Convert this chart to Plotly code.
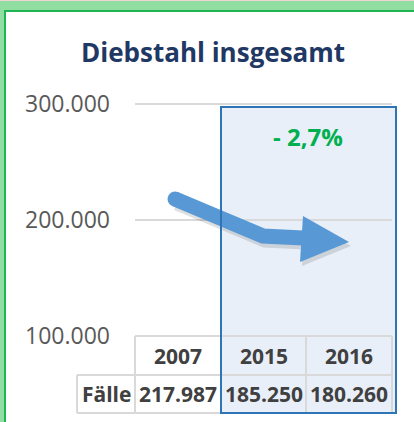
import plotly.graph_objects as go

# ---- data ----
years = ["2007", "2015", "2016"]
faelle = [217987, 185250, 180260]
row_label = "Fälle"
title_text = "Diebstahl insgesamt"
y_ticks = [100000, 200000, 300000]

W, H = 414, 422
FONT = "Open Sans"


def px(x):
    return x / W


def py(y):
    return 1 - y / H


def fmt_de(v):
    return f"{v:,}".replace(",", ".")


change = (faelle[2] - faelle[1]) / faelle[1] * 100
change_text = ("- " if change < 0 else "+ ") + f"{abs(change):.1f}".replace(".", ",") + "%"

fig = go.Figure()
fig.add_trace(go.Scatter(x=years, y=faelle, mode="markers",
                         marker=dict(opacity=0), hoverinfo="skip", showlegend=False))

shapes = []
# white cover on the right edge
shapes.append(dict(type="rect", xref="paper", yref="paper", x0=px(400), x1=1.05, y0=-0.05, y1=py(12),
                   fillcolor="white", line_width=0, layer="above"))
# frame
shapes.append(dict(type="rect", xref="paper", yref="paper", x0=0, x1=1, y0=py(0), y1=py(1),
                   fillcolor="#F2D4D4", line_width=0, layer="above"))
shapes.append(dict(type="rect", xref="paper", yref="paper", x0=0, x1=1, y0=py(1), y1=py(10),
                   fillcolor="#91DEA2", line_width=0, layer="above"))
shapes.append(dict(type="rect", xref="paper", yref="paper", x0=0, x1=px(4), y0=0, y1=py(1),
                   fillcolor="#91DEA2", line_width=0, layer="above"))
shapes.append(dict(type="rect", xref="paper", yref="paper", x0=px(4), x1=1, y0=py(10), y1=py(12),
                   fillcolor="#1FB552", line_width=0, layer="above"))
shapes.append(dict(type="rect", xref="paper", yref="paper", x0=px(4), x1=px(6), y0=0, y1=py(10),
                   fillcolor="#1FB552", line_width=0, layer="above"))

# highlighted region fill (below gridlines)
shapes.append(dict(type="rect", xref="paper", yref="paper", x0=px(221), x1=px(396),
                   y0=py(413), y1=py(107), fillcolor="#E9EFF8", line_width=0, layer="below"))

# table lines
GRID = "#D9D9D9"
def hline(x0, x1, y):
    shapes.append(dict(type="line", xref="paper", yref="paper", x0=px(x0), x1=px(x1),
                       y0=py(y), y1=py(y), line=dict(color=GRID, width=2), layer="above"))
def vline(x, y0, y1):
    shapes.append(dict(type="line", xref="paper", yref="paper", x0=px(x), x1=px(x),
                       y0=py(y0), y1=py(y1), line=dict(color=GRID, width=2), layer="above"))

hline(135, 392, 336)
hline(77, 392, 375)
hline(77, 392, 413)
vline(77, 375, 413)
for xx in (135, 221, 306, 392):
    vline(xx, 336, 413)

def path(points, close=False):
    s = "M " + " L ".join(f"{px(a):.5f},{py(b):.5f}" for a, b in points)
    return s + (" Z" if close else "")

# arrow shadow
sh_dx, sh_dy = 2, 4
shaft = [(175, 199), (263, 236), (303, 238)]
head = [(303, 216), (349, 242), (300, 262)]
SH = "rgba(0,0,0,0.12)"
shapes.append(dict(type="path", xref="paper", yref="paper",
                   path=path([(a + sh_dx, b + sh_dy) for a, b in shaft]),
                   line=dict(color=SH, width=15), layer="above"))
shapes.append(dict(type="path", xref="paper", yref="paper",
                   path=path([(a + sh_dx, b + sh_dy) for a, b in head], True),
                   fillcolor=SH, line_width=0, layer="above"))
# arrow
ARROW = "#5899D5"
shapes.append(dict(type="path", xref="paper", yref="paper", path=path(shaft),
                   line=dict(color=ARROW, width=15), layer="above"))
shapes.append(dict(type="path", xref="paper", yref="paper", path=path(head, True),
                   fillcolor=ARROW, line_width=0, layer="above"))
shapes.append(dict(type="circle", xref="paper", yref="paper",
                   x0=px(167.5), x1=px(182.5), y0=py(206.5), y1=py(191.5),
                   fillcolor=ARROW, line_width=0, layer="above"))

# highlighted region border (above arrow)
shapes.append(dict(type="rect", xref="paper", yref="paper", x0=px(221), x1=px(396),
                   y0=py(413), y1=py(107), fillcolor="rgba(0,0,0,0)",
                   line=dict(color="#2E75B6", width=2), layer="above"))

annotations = []
annotations.append(dict(text=f"<b>{title_text}</b>", xref="paper", yref="paper",
                        x=px(213), y=py(52), showarrow=False, xanchor="center", yanchor="middle",
                        font=dict(family=FONT, size=26, color="#1F3864")))
annotations.append(dict(text=f"<b>{change_text}</b>", xref="paper", yref="paper",
                        x=px(308), y=py(136), showarrow=False, xanchor="center", yanchor="middle",
                        font=dict(family=FONT, size=24, color="#00B050")))
TF = dict(family=FONT, size=21, color="#404040")
annotations.append(dict(text=f"<b>{row_label}</b>", xref="paper", yref="paper",
                        x=px(106), y=py(394), showarrow=False, xanchor="center", yanchor="middle",
                        font=TF))
for i, (yr, v) in enumerate(zip(years, faelle)):
    annotations.append(dict(text=f"<b>{yr}</b>", xref="x", yref="paper", x=i, y=py(355.5),
                            showarrow=False, xanchor="center", yanchor="middle", font=TF))
    annotations.append(dict(text=f"<b>{fmt_de(v)}</b>", xref="x", yref="paper", x=i, y=py(394),
                            showarrow=False, xanchor="center", yanchor="middle", font=TF))

# y axis: 100.000 at px 336, 300.000 at px 104; pad range slightly so edge gridlines render
Y0, Y1 = 100000, 300000
PAD = 1000
ppu = (336 - 104) / (Y1 - Y0)
dom_top = 104 - PAD * ppu
dom_bot = 336 + PAD * ppu

fig.update_layout(
    template="none",
    width=W, height=H, autosize=False,
    margin=dict(l=0, r=0, t=0, b=0, pad=0, autoexpand=False),
    paper_bgcolor="white", plot_bgcolor="rgba(0,0,0,0)",
    separators=",.",
    showlegend=False,
    xaxis=dict(domain=[px(135), px(392)], type="category", categoryarray=years,
               categoryorder="array",
               range=[-0.5, 2.5], showgrid=False, showticklabels=False, zeroline=False,
               showline=False, fixedrange=True, automargin=False),
    yaxis=dict(domain=[py(dom_bot), py(dom_top)], range=[Y0 - PAD, Y1 + PAD], tickvals=y_ticks,
               tickformat=",d", showgrid=True, gridcolor=GRID, gridwidth=1.5,
               zeroline=False, showline=False, ticks="", ticklabelstandoff=24,
               tickfont=dict(family=FONT, size=23, color="#595959"), fixedrange=True,
               automargin=False),
    shapes=shapes,
    annotations=annotations,
)

fig.write_html("out.html", config={"displayModeBar": False},
               post_script="document.body.style.margin='0';document.body.style.overflow='hidden';"
                           "document.documentElement.style.overflow='hidden';")
